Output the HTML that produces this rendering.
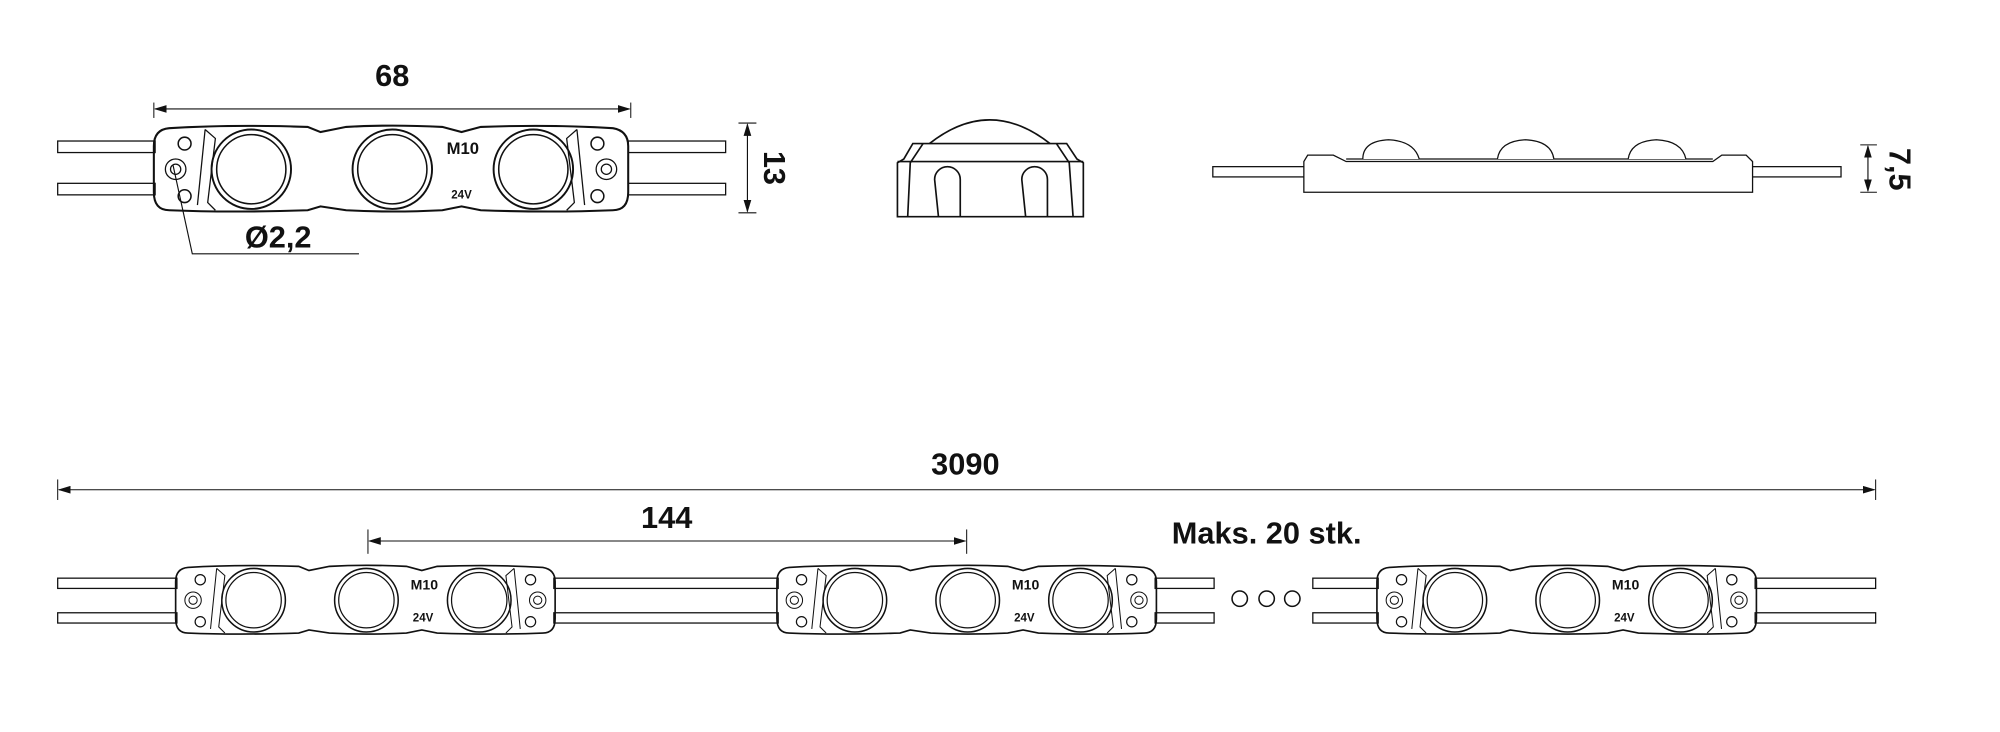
<!DOCTYPE html>
<html><head><meta charset="utf-8"><style>
html,body{margin:0;padding:0;background:#fff;}
svg{display:block;}
text{font-family:"Liberation Sans",sans-serif;font-weight:bold;fill:#111;}
</style></head><body>
<svg width="2000" height="732" viewBox="0 0 1560 571" preserveAspectRatio="none" xmlns="http://www.w3.org/2000/svg">
<defs>
<marker id="ar" markerWidth="10" markerHeight="6" refX="9" refY="3" orient="auto-start-reverse" markerUnits="userSpaceOnUse">
<path d="M0,0 L10,3 L0,6 z" fill="#111"/></marker>
<g id="mod" fill="none" stroke="#111">
<path d="M12,2 Q60,-1 120,1 L130,5 L150,1 Q185,-1 225,1 L240,5 L255,1 Q310,-1 358,2 Q370,4 370,16 V52 Q370,66 358,66 Q310,68 255,66 L240,63 L225,66 Q185,68 150,66 L130,63 L120,66 Q60,68 12,66 Q0,66 0,52 V16 Q0,3 12,2 Z" stroke-width="1.6"/>
<path d="M40,3 L48,10 L42,60 L48,66 M40,3 L34,62" stroke-width="1"/>
<path d="M330,3 L322,10 L328,60 L322,66 M330,3 L336,62" stroke-width="1"/>
<circle cx="24" cy="14" r="5" stroke-width="1.2"/><circle cx="24" cy="55" r="5" stroke-width="1.2"/>
<circle cx="17" cy="34" r="8" stroke-width="1"/><circle cx="17" cy="34" r="4" stroke-width="1"/>
<circle cx="346" cy="14" r="5" stroke-width="1.2"/><circle cx="346" cy="55" r="5" stroke-width="1.2"/>
<circle cx="353" cy="34" r="8" stroke-width="1"/><circle cx="353" cy="34" r="4" stroke-width="1"/>
<ellipse cx="76" cy="34" rx="31" ry="31" stroke-width="1.5"/><ellipse cx="76" cy="34" rx="27" ry="27" stroke-width="1.2"/>
<ellipse cx="186" cy="34" rx="31" ry="31" stroke-width="1.5"/><ellipse cx="186" cy="34" rx="27" ry="27" stroke-width="1.2"/>
<ellipse cx="296" cy="34" rx="31" ry="31" stroke-width="1.5"/><ellipse cx="296" cy="34" rx="27" ry="27" stroke-width="1.2"/>
</g>
</defs>

<!-- Top module wires -->
<g fill="#fff" stroke="#111" stroke-width="1">
<rect x="45" y="110" width="76" height="9"/><rect x="45" y="143" width="76" height="9"/>
<rect x="490" y="110" width="76" height="9"/><rect x="490" y="143" width="76" height="9"/>
</g>
<use href="#mod" transform="translate(120,98)"/>
<text x="361" y="120" font-size="13" text-anchor="middle">M10</text>
<text x="360" y="155" font-size="9" text-anchor="middle">24V</text>
<!-- 68 dim -->
<line x1="120" y1="80" x2="120" y2="92" stroke="#111" stroke-width="0.8"/>
<line x1="492" y1="80" x2="492" y2="92" stroke="#111" stroke-width="0.8"/>
<line x1="121" y1="85" x2="491" y2="85" stroke="#111" stroke-width="0.9" marker-start="url(#ar)" marker-end="url(#ar)"/>
<text x="306" y="67" font-size="24" text-anchor="middle">68</text>
<!-- 13 dim -->
<line x1="576" y1="96" x2="590" y2="96" stroke="#111" stroke-width="0.8"/>
<line x1="576" y1="166" x2="590" y2="166" stroke="#111" stroke-width="0.8"/>
<line x1="583" y1="97" x2="583" y2="165" stroke="#111" stroke-width="0.9" marker-start="url(#ar)" marker-end="url(#ar)"/>
<text transform="translate(596,131) rotate(90)" font-size="24" text-anchor="middle">13</text>
<!-- Ø2,2 -->
<polyline points="135,129 150,198 280,198" fill="none" stroke="#111" stroke-width="0.9"/>
<text x="217" y="193" font-size="24" text-anchor="middle">Ø2,2</text>

<!-- Front view -->
<g fill="none" stroke="#111" stroke-width="1.3">
<path d="M725,112 Q772,75 819,112"/>
<path d="M712,112 L832,112 L840,124 L845,127 L845,169 L700,169 L700,127 L705,124 Z"/>
<line x1="700" y1="126" x2="845" y2="126"/>
<path d="M720,112 L710,127 L708,169 M824,112 L834,127 L837,169"/>
<path d="M732,169 L729,140 A10,10 0 1 1 749,140 L749,169"/>
<path d="M800,169 L797,140 A10,10 0 1 1 817,140 L817,169"/>
</g>

<!-- Side view -->
<g fill="#fff" stroke="#111" stroke-width="1">
<rect x="946" y="130" width="72" height="8"/><rect x="1366" y="130" width="70" height="8"/>
<path d="M1017,126 L1017,150 L1367,150 L1367,126 L1362,121 L1343,121 L1336,126 L1050,126 L1040,121 L1020,121 Z"/>
<line x1="1050" y1="124" x2="1336" y2="124"/>
<path d="M1063,124 Q1063,110 1083,109 Q1103,110 1107,124"/>
<path d="M1168,124 Q1170,110 1190,109 Q1210,110 1212,124"/>
<path d="M1270,124 Q1272,110 1292,109 Q1312,110 1315,124"/>
</g>
<line x1="1451" y1="113" x2="1464" y2="113" stroke="#111" stroke-width="0.8"/>
<line x1="1451" y1="150" x2="1464" y2="150" stroke="#111" stroke-width="0.8"/>
<line x1="1457" y1="114" x2="1457" y2="149" stroke="#111" stroke-width="0.9" marker-start="url(#ar)" marker-end="url(#ar)"/>
<text transform="translate(1474,132) rotate(90)" font-size="24" text-anchor="middle">7,5</text>

<!-- 3090 dim -->
<line x1="45" y1="374" x2="45" y2="390" stroke="#111" stroke-width="0.8"/>
<line x1="1463" y1="374" x2="1463" y2="390" stroke="#111" stroke-width="0.8"/>
<line x1="46" y1="382" x2="1462" y2="382" stroke="#111" stroke-width="0.8" marker-start="url(#ar)" marker-end="url(#ar)"/>
<text x="753" y="370" font-size="24" text-anchor="middle">3090</text>
<!-- 144 dim -->
<line x1="287" y1="413" x2="287" y2="432" stroke="#111" stroke-width="0.8"/>
<line x1="754" y1="413" x2="754" y2="432" stroke="#111" stroke-width="0.8"/>
<line x1="288" y1="422" x2="753" y2="422" stroke="#111" stroke-width="0.8" marker-start="url(#ar)" marker-end="url(#ar)"/>
<text x="520" y="412" font-size="24" text-anchor="middle">144</text>
<text x="988" y="424" font-size="24" text-anchor="middle">Maks. 20 stk.</text>

<!-- bottom wires -->
<g fill="#fff" stroke="#111" stroke-width="1">
<rect x="45" y="451" width="93" height="8"/><rect x="45" y="478" width="93" height="8"/>
<rect x="432" y="451" width="175" height="8"/><rect x="432" y="478" width="175" height="8"/>
<rect x="901" y="451" width="46" height="8"/><rect x="901" y="478" width="46" height="8"/>
<rect x="1024" y="451" width="51" height="8"/><rect x="1024" y="478" width="51" height="8"/>
<rect x="1369" y="451" width="94" height="8"/><rect x="1369" y="478" width="94" height="8"/>
</g>
<g fill="none" stroke="#111" stroke-width="1.2">
<circle cx="967" cy="467" r="6"/><circle cx="988" cy="467" r="6"/><circle cx="1008" cy="467" r="6"/>
</g>
<use href="#mod" transform="translate(137,441) scale(0.8,0.8)"/>
<use href="#mod" transform="translate(606,441) scale(0.8,0.8)"/>
<use href="#mod" transform="translate(1074,441) scale(0.8,0.8)"/>
<g font-size="11" text-anchor="middle">
<text x="331" y="460">M10</text><text x="330" y="485" font-size="9">24V</text>
<text x="800" y="460">M10</text><text x="799" y="485" font-size="9">24V</text>
<text x="1268" y="460">M10</text><text x="1267" y="485" font-size="9">24V</text>
</g>
</svg>
</body></html>
